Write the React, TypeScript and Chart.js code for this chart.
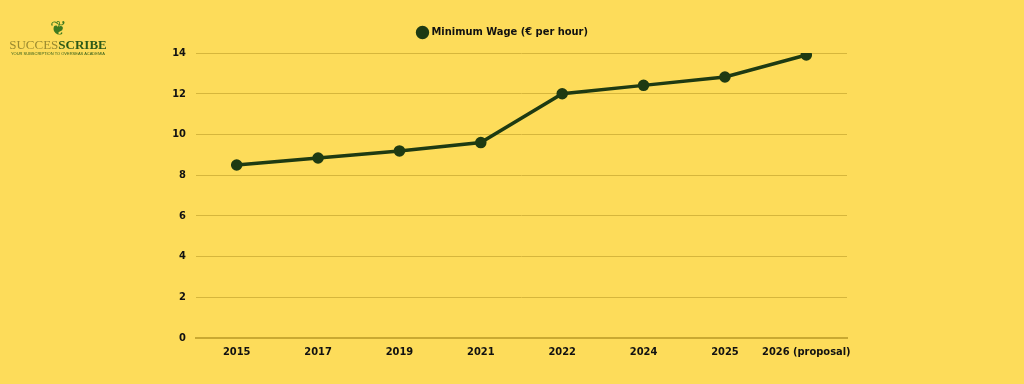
import React, { useEffect, useRef } from "react";
import { Chart, registerables } from "chart.js";

Chart.register(...registerables);

const categories = ["2015", "2017", "2019", "2021", "2022", "2024", "2025", "2026 (proposal)"];
const wageValues = [8.5, 8.84, 9.19, 9.6, 12.0, 12.41, 12.82, 13.9];
const seriesLabel = "Minimum Wage (€ per hour)";

const BG = "#FDDC5A";
const LINE = "#1E3A12";
const GRID = "#D6B63C";
const FONT = "'Liberation Sans Narrow', 'DejaVu Sans Condensed', sans-serif";

const legendSpacer = {
  id: "legendSpacer",
  beforeInit(chart: any) {
    const legend = chart.legend;
    if (!legend) return;
    const orig = legend.fit;
    legend.fit = function () {
      orig.call(this);
      this.height += 5;
    };
  },
};

export default function App() {
  const ref = useRef<HTMLCanvasElement | null>(null);

  useEffect(() => {
    document.body.style.margin = "0";
    const ctx = ref.current!;
    const chart = new Chart(ctx, {
      type: "line",
      data: {
        labels: categories,
        datasets: [
          {
            label: seriesLabel,
            data: wageValues,
            borderColor: LINE,
            backgroundColor: LINE,
            pointBackgroundColor: LINE,
            pointBorderColor: LINE,
            borderWidth: 3.5,
            pointRadius: 4,
            tension: 0,
          },
        ],
      },
      plugins: [legendSpacer],
      options: {
        animation: false,
        responsive: false,
        maintainAspectRatio: false,
        layout: { padding: { left: 160, right: 177, top: 8, bottom: 14 } },
        plugins: {
          legend: {
            position: "top",
            labels: {
              usePointStyle: true,
              pointStyle: "circle",
              boxWidth: 7,
              boxHeight: 7,
              color: "#111",
              font: { family: FONT, size: 11, weight: "bold" },
              padding: 19,
            },
          },
          tooltip: { enabled: false },
        },
        scales: {
          x: {
            offset: true,
            grid: { display: false, drawTicks: false },
            border: { display: true, color: "#C9A932", width: 2 },
            ticks: {
              color: "#111",
              font: { family: FONT, size: 11, weight: "bold" },
              padding: 8,
              maxRotation: 0,
              autoSkip: false,
            },
            afterFit: (s: any) => {
              s.height = 32;
            },
          },
          y: {
            min: 0,
            max: 14,
            ticks: {
              stepSize: 2,
              color: "#111",
              font: { family: FONT, size: 11, weight: "bold" },
              padding: 10,
            },
            grid: { color: GRID, lineWidth: 1, drawTicks: false },
            border: { display: false },
            afterFit: (s: any) => {
              s.width = 36;
            },
          },
        },
      },
    });
    return () => chart.destroy();
  }, []);

  return (
    <div style={{ position: "relative", width: 1024, height: 384, background: BG, overflow: "hidden" }}>
      <canvas ref={ref} width={1024} height={384} style={{ position: "absolute", left: 0, top: 0 }} />
      <div
        style={{
          position: "absolute",
          left: 8,
          top: 18,
          width: 100,
          textAlign: "center",
          fontFamily: "'Liberation Serif', serif",
          lineHeight: 1,
        }}
      >
        <div style={{ fontSize: 20, color: "#3E7A20", marginBottom: 0 }}>❦</div>
        <div style={{ fontSize: 13, letterSpacing: 0 }}>
          <span style={{ color: "#9A8A30" }}>SUCCES</span>
          <span style={{ color: "#2E5A18", fontWeight: "bold" }}>SCRIBE</span>
        </div>
        <div style={{ fontSize: 4, color: "#2E5A18", fontFamily: "sans-serif", marginTop: 1, whiteSpace: "nowrap" }}>
          YOUR SUBSCRIPTION TO OVERSEAS ACADEMIA
        </div>
      </div>
    </div>
  );
}
